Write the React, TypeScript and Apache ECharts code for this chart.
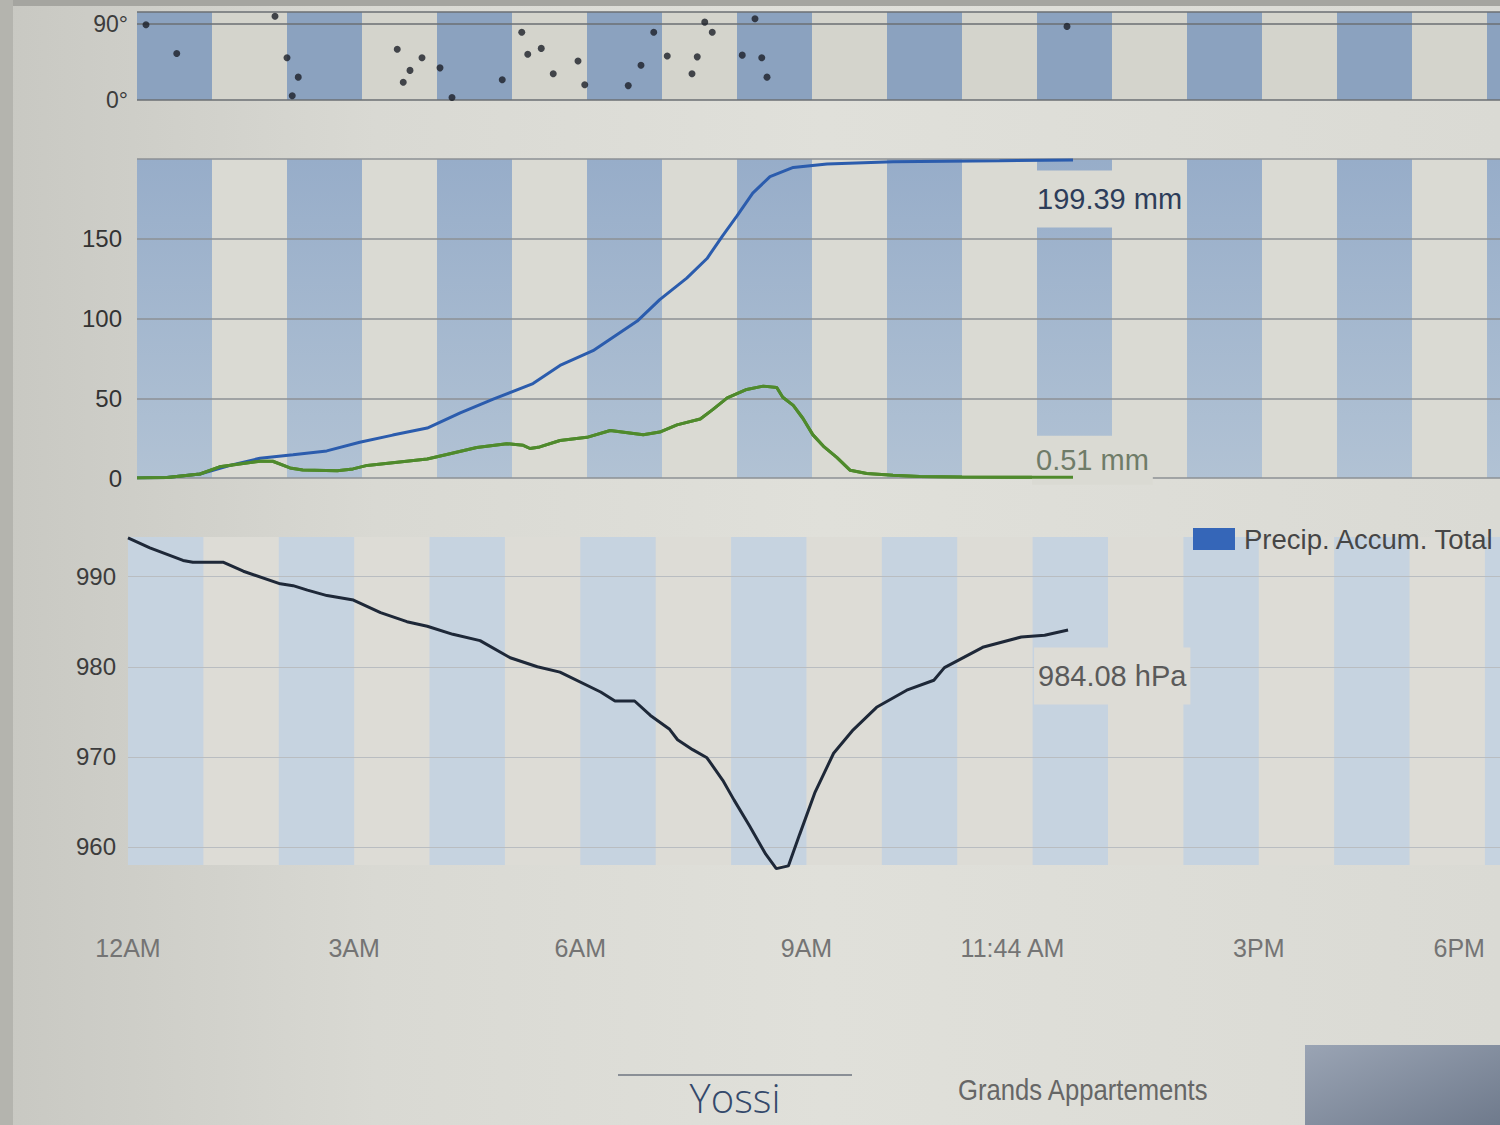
import React, { useEffect, useRef } from 'react';
import * as echarts from 'echarts';

// ---- data (hours after midnight) ----
const windHours = [0.12, 0.53, 1.84, 2.0, 2.07, 2.15, 3.47, 3.55, 3.64, 3.8, 4.04, 4.2, 4.87, 5.13, 5.21, 5.39, 5.55, 5.88, 5.97, 6.55, 6.72, 6.89, 7.07, 7.4, 7.47, 7.57, 7.67, 8.07, 8.24, 8.33, 8.4, 12.4];
const windDeg = [89, 55, 99, 50, 5, 27, 60, 21, 35, 50, 38, 3, 24, 80, 54, 61, 31, 46, 18, 17, 41, 80, 52, 31, 51, 92, 80, 53, 96, 50, 27, 87];

const accumHours = [0, 0.4, 0.84, 1.28, 1.64, 2.08, 2.53, 2.97, 3.41, 3.87, 4.31, 4.75, 5.28, 5.64, 6.08, 6.67, 6.97, 7.33, 7.6, 7.81, 8.0, 8.21, 8.44, 8.75, 9.2, 10.08, 11.5, 12.48];
const accumMm = [0, 0.3, 2.5, 8.4, 12.4, 14.6, 17, 22.4, 26.9, 31.3, 40.9, 49.5, 59.2, 70.6, 79.8, 98.4, 111.8, 125.3, 137.6, 152, 164.3, 178.6, 189, 194.7, 196.9, 198.3, 198.9, 199.39];

const rateHours = [0, 0.4, 0.84, 1.1, 1.64, 1.81, 2.04, 2.21, 2.67, 2.88, 3.07, 3.41, 3.87, 4.13, 4.53, 4.93, 5.15, 5.24, 5.37, 5.64, 6.0, 6.31, 6.75, 6.97, 7.2, 7.51, 7.68, 7.87, 8.13, 8.35, 8.53, 8.61, 8.75, 8.88, 9.01, 9.15, 9.33, 9.51, 9.73, 10.08, 10.44, 11.0, 11.7, 12.48];
const rateMm = [0, 0.3, 2.5, 7, 10.5, 10.5, 6.3, 5, 4.6, 5.7, 7.9, 9.6, 11.9, 14.7, 19.1, 21.5, 20.5, 18.5, 19.5, 23.5, 25.5, 29.8, 27.1, 28.8, 33.3, 37, 43, 50.2, 55.5, 57.6, 56.7, 50.6, 45.5, 37.3, 27.2, 20, 12.9, 4.8, 2.8, 1.8, 1.0, 0.6, 0.4, 0.51];

const pressHours = [0, 0.29, 0.73, 0.86, 1.26, 1.53, 2.02, 2.19, 2.38, 2.64, 2.99, 3.35, 3.7, 3.97, 4.31, 4.67, 5.07, 5.43, 5.73, 6.27, 6.46, 6.72, 6.93, 7.18, 7.29, 7.49, 7.68, 7.89, 8.04, 8.24, 8.46, 8.6, 8.76, 8.91, 9.11, 9.36, 9.62, 9.93, 10.33, 10.69, 10.83, 11.35, 11.85, 12.16, 12.47];
const pressHpa = [994.3, 993.2, 991.8, 991.6, 991.6, 990.6, 989.2, 989.0, 988.5, 987.9, 987.4, 986.0, 985.0, 984.5, 983.6, 982.9, 981.0, 980.0, 979.4, 977.2, 976.2, 976.2, 974.6, 973.1, 971.9, 970.8, 969.9, 967.4, 965.2, 962.4, 959.2, 957.6, 957.9, 961.4, 966.0, 970.4, 973.0, 975.5, 977.4, 978.5, 979.9, 982.2, 983.3, 983.5, 984.08];

const hourStarts = [0, 1, 2, 3, 4, 5, 6, 7, 8, 9, 10, 11, 12, 13, 14, 15, 16, 17, 18];
const xTickHours = [0, 3, 6, 9, 11.7333, 15, 18];
const xTickLabels = ['12AM', '3AM', '6AM', '9AM', '11:44 AM', '3PM', '6PM'];
const windLabelTicks = [0, 90];
const windLineTicks = [0, 90, 104];
const precipLabelTicks = [0, 50, 100, 150];
const precipLineTicks = [0, 50, 100, 150, 200];
const pressureTicks = [960, 970, 980, 990];

const FONT = '"Liberation Sans", Arial, sans-serif';
const X_MAX = 18.2;

function zip(a: number[], b: number[]) {
  return a.map((v, i) => [v, b[i]]);
}

function darkBands(color: any) {
  return hourStarts
    .filter((h) => h % 2 === 0)
    .map((h) => [{ xAxis: h, itemStyle: { color } }, { xAxis: h + 1 }]);
}

export default function App() {
  const ref = useRef<HTMLDivElement>(null);
  useEffect(() => {
    if (!ref.current) return;
    const chart = echarts.init(ref.current, undefined, { renderer: 'svg' });

    const midDark = {
      type: 'linear', x: 0, y: 0, x2: 0, y2: 1,
      colorStops: [
        { offset: 0, color: '#97adc9' },
        { offset: 1, color: '#b1c2d4' },
      ],
    };

    const xAxisBase = {
      type: 'value',
      min: 0,
      max: X_MAX,
      splitLine: { show: false },
      axisLine: { show: false },
      axisTick: { show: false },
    };

    const gridBase = { show: true, borderWidth: 0, outerBoundsMode: 'none', containLabel: false };

    const rateLine = {
      type: 'line', xAxisIndex: 1, yAxisIndex: 1,
      showSymbol: false, symbol: 'none',
      lineStyle: { color: '#4f8a2c', width: 3 },
      itemStyle: { color: '#4f8a2c' },
      data: zip(rateHours, rateMm),
    };

    const option: any = {
      animation: false,
      backgroundColor: 'transparent',
      grid: [
        { ...gridBase, left: 137, width: 1365, top: 12, height: 88, backgroundColor: '#d4d4cc' },
        { ...gridBase, left: 137, width: 1365, top: 159, height: 319, backgroundColor: '#dadad3' },
        { ...gridBase, left: 128, width: 1372, top: 537, height: 328, backgroundColor: '#dddcd6' },
      ],
      legend: {
        data: [{ name: 'Precip. Accum. Total', icon: 'rect', itemStyle: { color: '#3566b8' } }],
        left: 1188,
        top: 520,
        itemWidth: 42,
        itemHeight: 22,
        textStyle: { fontSize: 27.5, color: '#464646', fontFamily: FONT, padding: [0, 0, 0, 4] },
      },
      xAxis: [
        { ...xAxisBase, gridIndex: 0, axisLabel: { show: false } },
        { ...xAxisBase, gridIndex: 1, axisLabel: { show: false } },
        {
          ...xAxisBase,
          gridIndex: 2,
          axisLabel: {
            show: true,
            customValues: xTickHours,
            margin: 70,
            fontSize: 25,
            color: '#747474',
            fontFamily: FONT,
            alignMaxLabel: 'right',
            formatter: (v: number) => {
              let best = 0;
              xTickHours.forEach((t, i) => {
                if (Math.abs(t - v) < Math.abs(xTickHours[best] - v)) best = i;
              });
              return xTickLabels[best];
            },
          },
        },
      ],
      yAxis: [
        {
          type: 'value', gridIndex: 0, min: 0, max: 104, z: 2,
          axisLine: { show: false },
          axisTick: { show: false, customValues: windLineTicks },
          axisLabel: {
            customValues: windLabelTicks, margin: 9, fontSize: 23, color: '#3c3c3c', fontFamily: FONT,
            formatter: (v: number) => v + '°',
          },
          splitLine: { show: true, lineStyle: { color: '#6b6f73', width: 1.5 } },
        },
        {
          type: 'value', gridIndex: 1, min: 0, max: 200, z: 2,
          axisLine: { show: false },
          axisTick: { show: false, customValues: precipLineTicks },
          axisLabel: { customValues: precipLabelTicks, margin: 15, fontSize: 24, color: '#333', fontFamily: FONT },
          splitLine: { show: true, lineStyle: { color: '#8c9094', width: 1.5 } },
        },
        {
          type: 'value', gridIndex: 2, min: 958, max: 994.4, z: 2,
          axisLine: { show: false },
          axisTick: { show: false, customValues: pressureTicks },
          axisLabel: { customValues: pressureTicks, margin: 12, fontSize: 24, color: '#3c3c3c', fontFamily: FONT },
          splitLine: { show: true, lineStyle: { color: '#b9bdc1', width: 1 } },
        },
      ],
      series: [
        {
          type: 'scatter', name: 'bands-top', xAxisIndex: 0, yAxisIndex: 0, z: 1, data: [],
          markArea: { silent: true, data: darkBands('#8ba2bf') },
        },
        {
          type: 'scatter', name: 'bands-mid', xAxisIndex: 1, yAxisIndex: 1, z: 1, data: [],
          markArea: { silent: true, data: darkBands(midDark) },
        },
        {
          type: 'scatter', name: 'bands-bottom', xAxisIndex: 2, yAxisIndex: 2, z: 1, data: [],
          markArea: { silent: true, data: darkBands('#c6d3e0') },
        },
        {
          type: 'scatter', name: 'Wind Direction', xAxisIndex: 0, yAxisIndex: 0, z: 3,
          symbolSize: 7, itemStyle: { color: '#1b1f28' },
          data: zip(windHours, windDeg),
        },
        {
          type: 'line', name: 'Precip. Accum. Total', xAxisIndex: 1, yAxisIndex: 1, z: 3,
          showSymbol: false, symbol: 'none',
          lineStyle: { color: '#2b5cad', width: 3 },
          itemStyle: { color: '#2b5cad' },
          data: zip(accumHours, accumMm),
          endLabel: {
            show: true,
            formatter: () => `${accumMm[accumMm.length - 1]} mm`,
            offset: [-48, 39],
            fontSize: 29, fontFamily: FONT, color: '#2d3d5a',
            backgroundColor: '#dadad3', padding: [14, 4],
          },
        },
        {
          ...rateLine, name: 'Precip. Rate', z: 3,
          endLabel: {
            show: true,
            formatter: () => `${rateMm[rateMm.length - 1]} mm`,
            offset: [-49, -17],
            fontSize: 29, fontFamily: FONT, color: '#6f7c68',
            backgroundColor: '#dadad3', padding: [14, 4, 6, 4],
          },
        },
        // same rate series drawn again above the label boxes so its tail stays visible
        { ...rateLine, name: 'Precip. Rate (top)', z: 5 },
        {
          type: 'line', name: 'Pressure', xAxisIndex: 2, yAxisIndex: 2, z: 3,
          showSymbol: false, symbol: 'none', clip: false,
          lineStyle: { color: '#1e2838', width: 3 },
          itemStyle: { color: '#1e2838' },
          data: zip(pressHours, pressHpa),
          endLabel: {
            show: true,
            formatter: () => `${pressHpa[pressHpa.length - 1]} hPa`,
            offset: [-42, 46],
            fontSize: 29, fontFamily: FONT, color: '#5a5a5a',
            backgroundColor: '#dddcd6', padding: [14, 4],
          },
        },
      ],
      graphic: [
        { type: 'rect', left: 0, top: 0, shape: { width: 1500, height: 6 }, style: { fill: '#a5a5a0' }, z: 10 },
        { type: 'rect', left: 0, top: 0, shape: { width: 13, height: 1125 }, style: { fill: '#b4b4ae' }, z: 10 },
        { type: 'line', shape: { x1: 618, y1: 1075, x2: 852, y2: 1075 }, style: { stroke: '#8a8f96', lineWidth: 2 }, z: 10 },
        {
          type: 'text', x: 735, y: 1097, z: 10,
          style: { text: 'Yossi', fontSize: 40, fontFamily: '"Open Sans", sans-serif', fontWeight: 300, fill: '#34496b', align: 'center', verticalAlign: 'middle' },
        },
        {
          type: 'text', x: 958, y: 1090, z: 10, scaleX: 0.885,
          style: { text: 'Grands Appartements', fontSize: 29, fontFamily: FONT, fill: '#666', align: 'left', verticalAlign: 'middle' },
        },
        {
          type: 'rect', left: 1305, top: 1045, z: 10,
          shape: { width: 195, height: 80 },
          style: {
            fill: {
              type: 'linear', x: 0, y: 0, x2: 1, y2: 1,
              colorStops: [
                { offset: 0, color: '#9aa4b4' },
                { offset: 1, color: '#6f7a8c' },
              ],
            },
          },
        },
      ],
    };

    chart.setOption(option);
    return () => chart.dispose();
  }, []);

  return (
    <div
      ref={ref}
      style={{
        position: 'absolute',
        left: 0,
        top: 0,
        width: 1500,
        height: 1125,
        background: 'linear-gradient(90deg, #c8c8c2 0%, #d9d9d3 25%, #e0e0da 55%, #dadad4 100%)',
      }}
    />
  );
}
